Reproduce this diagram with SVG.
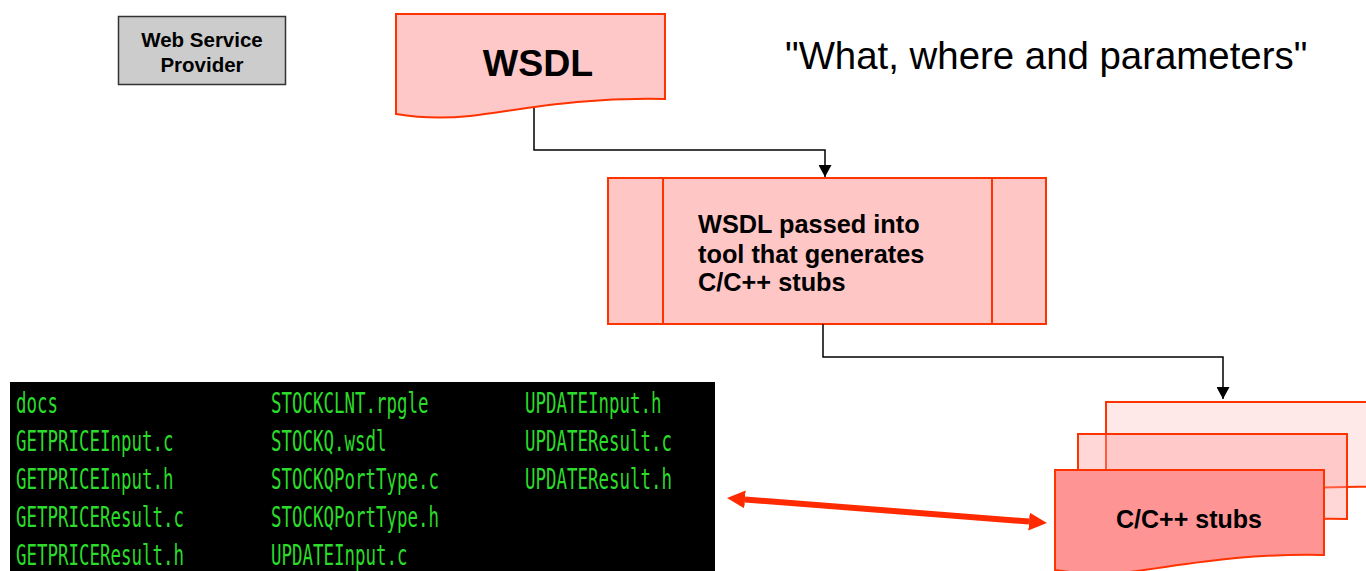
<svg xmlns="http://www.w3.org/2000/svg" width="1366" height="571" viewBox="0 0 1366 571">
<style>
.bold{font-family:"Liberation Sans",Arial,sans-serif;font-weight:bold;fill:#000}
.reg{font-family:"Liberation Sans",Arial,sans-serif;fill:#000}
.mono{font-family:"DejaVu Sans Mono","Liberation Mono",monospace;font-size:27.5px;fill:#2bdc2b}
.red{stroke:#ff3300;stroke-width:2}
.conn{fill:none;stroke:#000;stroke-width:1.5}
</style>
<defs>
<path id="doc" d="M0,0 H269 V85 C184,83 124,96 74,102 C44,105 24,104 0,100 Z"/>
<marker id="blk" markerUnits="userSpaceOnUse" markerWidth="13" markerHeight="13" refX="12" refY="6.5" orient="auto">
<path d="M0,0 L12,6.5 L0,13 Z" fill="#000"/>
</marker>
<marker id="rhead" markerUnits="userSpaceOnUse" markerWidth="18" markerHeight="18" refX="0" refY="9" orient="auto-start-reverse">
<path d="M0,0 L18,9 L0,18 Z" fill="#ff2a00"/>
</marker>
</defs>

<g id="provider">
<rect x="118.5" y="16.5" width="167" height="68" fill="#cccccc" stroke="#333" stroke-width="1.5"/>
<text class="bold" x="202" y="47" font-size="20.5" text-anchor="middle">Web Service</text>
<text class="bold" x="202" y="72" font-size="20.5" text-anchor="middle">Provider</text>
</g>

<g id="wsdl">
<use href="#doc" x="396" y="14" fill="#ffc8c8" class="red"/>
<text class="bold" x="538" y="76" font-size="37.5" text-anchor="middle">WSDL</text>
</g>

<g id="caption">
<text class="reg" x="785" y="69" font-size="38.4">"What, where and parameters"</text>
</g>

<g id="tool">
<rect x="608" y="178" width="438" height="146" fill="#ffc6c6" class="red"/>
<line x1="663" y1="178" x2="663" y2="324" class="red"/>
<line x1="992" y1="178" x2="992" y2="324" class="red"/>
<text class="bold" font-size="25.3"><tspan x="698" y="233">WSDL passed into</tspan><tspan x="698" y="262.5">tool that generates</tspan><tspan x="698" y="291">C/C++ stubs</tspan></text>
</g>

<g id="stubs">
<use href="#doc" x="1106" y="402" fill="#ffe8e8" class="red"/>
<use href="#doc" x="1078" y="434" fill="#ff9a9a" fill-opacity="0.4" class="red"/>
<use href="#doc" x="1055" y="470" fill="#ff9494" class="red"/>
<text class="bold" x="1189" y="528" font-size="25" text-anchor="middle">C/C++ stubs</text>
</g>

<g id="listing">
<rect x="10" y="382" width="705" height="189" fill="#000"/>
<text class="mono" x="16" y="413" textLength="42" lengthAdjust="spacingAndGlyphs">docs</text>
<text class="mono" x="16" y="451" textLength="157.5" lengthAdjust="spacingAndGlyphs">GETPRICEInput.c</text>
<text class="mono" x="16" y="489" textLength="157.5" lengthAdjust="spacingAndGlyphs">GETPRICEInput.h</text>
<text class="mono" x="16" y="527" textLength="168" lengthAdjust="spacingAndGlyphs">GETPRICEResult.c</text>
<text class="mono" x="16" y="565" textLength="168" lengthAdjust="spacingAndGlyphs">GETPRICEResult.h</text>
<text class="mono" x="271" y="413" textLength="157.5" lengthAdjust="spacingAndGlyphs">STOCKCLNT.rpgle</text>
<text class="mono" x="271" y="451" textLength="115.5" lengthAdjust="spacingAndGlyphs">STOCKQ.wsdl</text>
<text class="mono" x="271" y="489" textLength="168" lengthAdjust="spacingAndGlyphs">STOCKQPortType.c</text>
<text class="mono" x="271" y="527" textLength="168" lengthAdjust="spacingAndGlyphs">STOCKQPortType.h</text>
<text class="mono" x="271" y="565" textLength="136.5" lengthAdjust="spacingAndGlyphs">UPDATEInput.c</text>
<text class="mono" x="525" y="413" textLength="136.5" lengthAdjust="spacingAndGlyphs">UPDATEInput.h</text>
<text class="mono" x="525" y="451" textLength="147" lengthAdjust="spacingAndGlyphs">UPDATEResult.c</text>
<text class="mono" x="525" y="489" textLength="147" lengthAdjust="spacingAndGlyphs">UPDATEResult.h</text>
</g>

<g id="connectors">
<polyline class="conn" points="534,108 534,150 825,150 825,177" marker-end="url(#blk)"/>
<polyline class="conn" points="823,324 823,357 1223,357 1223,399" marker-end="url(#blk)"/>
<line x1="745" y1="499.4" x2="1029" y2="521.6" stroke="#ff2a00" stroke-width="6" marker-start="url(#rhead)" marker-end="url(#rhead)"/>
</g>
</svg>
